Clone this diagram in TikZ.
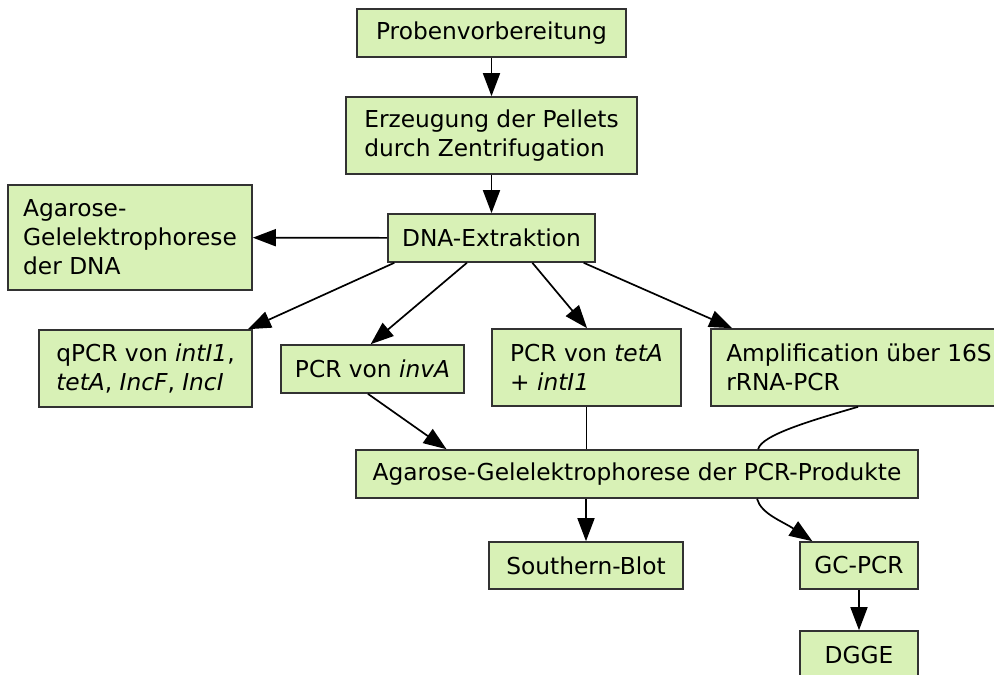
\documentclass[tikz,border=0pt]{standalone}
\usepackage{fontspec}
\setmainfont{DejaVu Sans}
\usetikzlibrary{arrows.meta,calc}
\definecolor{boxgreen}{RGB}{216,241,182}
\definecolor{edgegray}{RGB}{50,50,50}
\newcommand{\boxfont}{\fontsize{23.3}{29}\selectfont}
\tikzset{
  box/.style={draw=edgegray, fill=boxgreen, line width=1.6pt, inner sep=0pt, align=left, font=\boxfont},
  conn/.style={line width=1.7pt, draw=black},
  arr/.style={conn, -{Triangle[length=23pt,width=17pt]}}
}
\begin{document}
\begin{tikzpicture}[x=1pt,y=-1pt]
\useasboundingbox (0,0) rectangle (994,675);
\node[box, minimum width=269pt, minimum height=48pt] (proben) at (491.5,33) {Probenvorbereitung};
\node[box, minimum width=291pt, minimum height=77pt] (erz) at (491.5,135.5) {Erzeugung der Pellets\\durch Zentrifugation};
\node[box, minimum width=207pt, minimum height=48pt] (dna) at (491.5,238) {DNA-Extraktion};
\node[box, minimum width=244pt, minimum height=105pt] (agdna) at (130,237.5) {Agarose-\\Gelelektrophorese\\der DNA};
\node[box, minimum width=213pt, minimum height=77pt] (qpcr) at (145.5,368.5) {qPCR von \textit{intI1},\\\textit{tetA}, \textit{IncF}, \textit{IncI}};
\node[box, minimum width=183pt, minimum height=48pt] (inva) at (372.5,369) {PCR von \textit{invA}};
\node[box, minimum width=189pt, minimum height=77pt] (teta) at (586.5,367.5) {PCR von \textit{tetA}\\+ \textit{intI1}};
\node[box, minimum width=296pt, minimum height=77pt] (ampl) at (859,367.5) {Amplification über 16S\\rRNA-PCR};
\node[box, minimum width=562pt, minimum height=48pt] (prod) at (637,474) {Agarose-Gelelektrophorese der PCR-Produkte};
\node[box, minimum width=194pt, minimum height=47pt] (south) at (586,565.5) {Southern-Blot};
\node[box, minimum width=118pt, minimum height=47pt] (gc) at (859,565.5) {GC-PCR};
\node[box, minimum width=118pt, minimum height=48pt] (dgge) at (859,655) {DGGE};

\draw[arr] (proben) -- (erz);
\draw[arr] (erz) -- (dna);
\draw[arr] (dna) -- (agdna);
\draw[arr] ($(dna.south west)!0.034!(dna.south east)$) -- ($(qpcr.north west)!0.977!(qpcr.north east)$);
\draw[arr] ($(dna.south west)!0.382!(dna.south east)$) -- ($(inva.north west)!0.49!(inva.north east)$);
\draw[arr] ($(dna.south west)!0.696!(dna.south east)$) -- ($(teta.north west)!0.503!(teta.north east)$);
\draw[arr] ($(dna.south west)!0.942!(dna.south east)$) -- ($(ampl.north west)!0.074!(ampl.north east)$);
\draw[arr] ($(inva.south west)!0.475!(inva.south east)$) -- ($(prod.north west)!0.162!(prod.north east)$);
\draw[conn] (teta.south) -- (teta.south |- prod.north);
\coordinate (amplout) at ($(ampl.south west)!0.497!(ampl.south east)$);
\coordinate (prodin) at ($(prod.north west)!0.715!(prod.north east)$);
\draw[conn] (amplout) .. controls ($(amplout)+(-48,14)$) and ($(prodin)+(3,-14)$) .. (prodin);
\coordinate (prodout) at ($(prod.south west)!0.713!(prod.south east)$);
\coordinate (gcin) at ($(gc.north west)!0.11!(gc.north east)$);
\draw[arr] (prodout) .. controls ($(prodout)+(4,15)$) and ($(gcin)+(-30,-20)$) .. (gcin);
\draw[arr] (prod.south -| south.north) -- (south.north);
\draw[arr] (gc) -- (dgge);
\end{tikzpicture}
\end{document}
